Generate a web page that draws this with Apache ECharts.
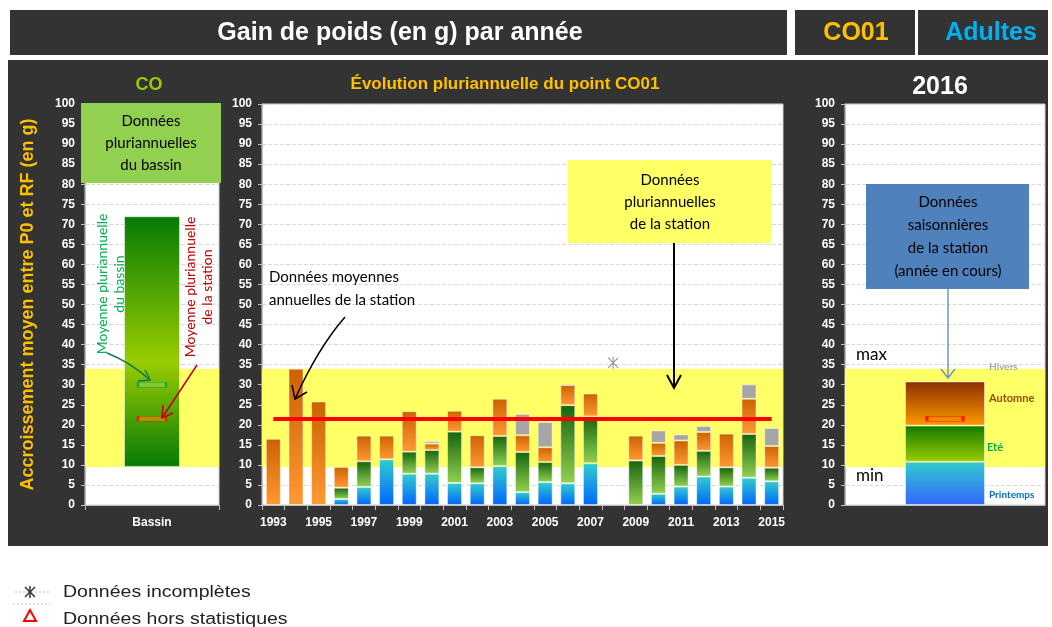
<!DOCTYPE html>
<html>
<head>
<meta charset="utf-8">
<title>Gain de poids (en g) par année</title>
<script src="https://cdn.jsdelivr.net/npm/echarts@6/dist/echarts.min.js"></script>
<style>
  html, body { margin: 0; padding: 0; background: #ffffff; }
  #chart { width: 1052px; height: 627px; }
</style>
</head>
<body>
<div id="chart"></div>
<script>
// données pluriannuelles de la station (g)
const years = ['1993', '1994', '1995', '1996', '1997', '1998', '1999', '2000', '2001', '2002', '2003', '2004',
    '2005', '2006', '2007', '2008', '2009', '2010', '2011', '2012', '2013', '2014', '2015'];
const printemps = [0, 0, 0, 1.5, 4.5, 11.4, 7.8, 7.8, 5.5, 5.4, 9.7, 3.2, 5.7, 5.4, 10.4, 0, 0, 2.8, 4.6, 7.1, 4.6, 6.8, 5.9];
const ete = [0, 0, 0, 2.8, 6.4, 0, 5.5, 5.9, 12.8, 4.0, 7.5, 10.0, 5.0, 19.5, 11.7, 0, 11.1, 9.4, 5.4, 6.4, 4.8, 10.9, 3.4];
const automne = [16.5, 34, 25.8, 5.2, 6.4, 5.9, 10.1, 1.6, 5.2, 8.0, 9.3, 4.2, 3.7, 5.0, 5.7, 0, 6.2, 3.3, 6.1, 4.7, 8.4, 8.8, 5.4];
const hivers = [0, 0, 0, 0, 0, 0, 0, 0.6, 0, 0, 0, 5.3, 6.3, 0.4, 0, 0, 0, 3.1, 1.5, 1.5, 0, 3.6, 4.5];

// données incomplètes
const incompleteYears = ['2008'];
const incompleteValues = [35.5];

// bassin
const bassinCategory = ['Bassin'];
const bassinMin = 9.5;
const bassinMax = 72;
const bassinMean = 30;
const stationMean = 21.5;

// bande min / max
const bandLow = 9.5;
const bandHigh = 34;

// année en cours
const currentYear = ['2016'];
const printempsCurrent = [10.8];
const eteCurrent = [9.0];
const automneCurrent = [11.0];
const hiversCurrent = [0];

document.addEventListener('DOMContentLoaded', function() {
    const chart = echarts.init(document.getElementById('chart'));

    const ARIAL = 'Liberation Sans, Arial, sans-serif';
    const CALIBRI = 'Lato, Open Sans, sans-serif';

    function grad(top, bottom) {
        return new echarts.graphic.LinearGradient(0, 0, 0, 1, [
            { offset: 0, color: top },
            { offset: 1, color: bottom }
        ]);
    }
    // 0 -> pas de barre
    function gaps(arr) {
        return arr.map(v => (v ? v : null));
    }

    const band = {
        silent: true,
        itemStyle: { color: '#ffff66' },
        data: [[{ yAxis: bandLow }, { yAxis: bandHigh }]]
    };

    function yAxisFor(i) {
        return {
            type: 'value', gridIndex: i, min: 0, max: 100, interval: 5,
            axisLine: { show: true, lineStyle: { color: '#bfbfbf' } },
            axisTick: { show: true, length: 4, lineStyle: { color: '#bfbfbf' } },
            axisLabel: { color: '#ffffff', fontWeight: 'bold', fontSize: 12, fontFamily: ARIAL, margin: 10 },
            splitLine: { show: true, lineStyle: { color: '#d9d9d9', type: 'dashed' } }
        };
    }

    const gridStyle = { show: true, backgroundColor: '#ffffff', borderColor: '#d0d0d0', borderWidth: 1 };

    const barBorder = { borderColor: 'rgba(255,255,255,0.45)', borderWidth: 1 };

    const graphic = [
        // fonds sombres
        { type: 'rect', z: -10, shape: { x: 8, y: 60, width: 1040, height: 486 }, style: { fill: '#333333' } },
        { type: 'rect', z: -10, shape: { x: 10, y: 10, width: 777, height: 45 }, style: { fill: '#333333' } },
        { type: 'rect', z: -10, shape: { x: 795, y: 10, width: 120, height: 45 }, style: { fill: '#333333' } },
        { type: 'rect', z: -10, shape: { x: 918, y: 10, width: 130, height: 45 }, style: { fill: '#333333' } },
        { type: 'text', x: 400, y: 33, style: { text: 'Gain de poids (en g) par année', fill: '#ffffff', font: 'bold 25px ' + ARIAL, textAlign: 'center', textVerticalAlign: 'middle' } },
        { type: 'text', x: 856, y: 33, style: { text: 'CO01', fill: '#ffc000', font: 'bold 25px ' + ARIAL, textAlign: 'center', textVerticalAlign: 'middle' } },
        { type: 'text', x: 991, y: 33, style: { text: 'Adultes', fill: '#00b0f0', font: 'bold 25px ' + ARIAL, textAlign: 'center', textVerticalAlign: 'middle' } },

        // titres des panneaux
        { type: 'text', x: 149, y: 85, style: { text: 'CO', fill: '#99cc00', font: 'bold 18px ' + ARIAL, textAlign: 'center', textVerticalAlign: 'middle' } },
        { type: 'text', x: 505, y: 84, style: { text: 'Évolution pluriannuelle du point CO01', fill: '#ffc000', font: 'bold 17px ' + ARIAL, textAlign: 'center', textVerticalAlign: 'middle' } },
        { type: 'text', x: 940, y: 87, style: { text: '2016', fill: '#ffffff', font: 'bold 25px ' + ARIAL, textAlign: 'center', textVerticalAlign: 'middle' } },

        // panneau bassin
        { type: 'rect', z: 10, shape: { x: 81, y: 103, width: 140, height: 80 }, style: { fill: '#92d050' } },
        { type: 'text', z: 11, x: 151, y: 143, style: { text: 'Données\npluriannuelles\ndu bassin', fill: '#000000', font: '15px ' + CALIBRI, lineHeight: 22, textAlign: 'center', textVerticalAlign: 'middle' } },
        { type: 'text', z: 11, x: 111, y: 284, rotation: Math.PI / 2, style: { text: 'Moyenne pluriannuelle\ndu bassin', fill: '#00b050', font: '14px ' + CALIBRI, lineHeight: 17, textAlign: 'center', textVerticalAlign: 'middle' } },
        { type: 'text', z: 11, x: 199, y: 287, rotation: Math.PI / 2, style: { text: 'Moyenne pluriannuelle\nde la station', fill: '#c00000', font: '14px ' + CALIBRI, lineHeight: 17, textAlign: 'center', textVerticalAlign: 'middle' } },
        { type: 'bezierCurve', z: 11, shape: { x1: 107, y1: 353, x2: 150, y2: 380, cpx1: 130, cpy1: 362 }, style: { stroke: '#137a4c', lineWidth: 1.5, fill: null } },
        { type: 'polyline', z: 11, shape: { points: [[138, 381], [150, 380], [145, 370]] }, style: { stroke: '#137a4c', lineWidth: 1.5, fill: null } },
        { type: 'line', z: 11, shape: { x1: 197, y1: 365, x2: 162, y2: 418 }, style: { stroke: '#c00000', lineWidth: 1.5 } },
        { type: 'polyline', z: 11, shape: { points: [[163, 405], [162, 418], [173, 413]] }, style: { stroke: '#c00000', lineWidth: 1.5, fill: null } },

        // panneau pluriannuel
        { type: 'text', z: 11, x: 269, y: 289, style: { text: 'Données moyennes\nannuelles de la station', fill: '#000000', font: '15px ' + CALIBRI, lineHeight: 23, textAlign: 'left', textVerticalAlign: 'middle' } },
        { type: 'bezierCurve', z: 11, shape: { x1: 345, y1: 317, x2: 295, y2: 399, cpx1: 318, cpy1: 348 }, style: { stroke: '#000000', lineWidth: 1.5, fill: null } },
        { type: 'polyline', z: 11, shape: { points: [[292, 385], [295, 399], [307, 392]] }, style: { stroke: '#000000', lineWidth: 1.5, fill: null } },
        { type: 'rect', z: 10, shape: { x: 568, y: 160, width: 204, height: 83 }, style: { fill: '#ffff66' } },
        { type: 'text', z: 11, x: 670, y: 202, style: { text: 'Données\npluriannuelles\nde la station', fill: '#000000', font: '15px ' + CALIBRI, lineHeight: 22, textAlign: 'center', textVerticalAlign: 'middle' } },
        { type: 'line', z: 11, shape: { x1: 674, y1: 243, x2: 674, y2: 388 }, style: { stroke: '#000000', lineWidth: 2 } },
        { type: 'polyline', z: 11, shape: { points: [[667, 375], [674, 388], [681, 375]] }, style: { stroke: '#000000', lineWidth: 2, fill: null } },

        // panneau année en cours
        { type: 'rect', z: 10, shape: { x: 866, y: 184, width: 163, height: 105 }, style: { fill: '#4f81bd' } },
        { type: 'text', z: 11, x: 948, y: 237, style: { text: 'Données\nsaisonnières\nde la station\n(année en cours)', fill: '#000000', font: '15px ' + CALIBRI, lineHeight: 23, textAlign: 'center', textVerticalAlign: 'middle' } },
        { type: 'line', z: 11, shape: { x1: 948, y1: 289, x2: 948, y2: 378 }, style: { stroke: '#7096c8', lineWidth: 1.5 } },
        { type: 'polyline', z: 11, shape: { points: [[941, 369], [948, 378], [955, 369]] }, style: { stroke: '#7096c8', lineWidth: 1.5, fill: null } },
        { type: 'text', z: 11, x: 856, y: 355, style: { text: 'max', fill: '#000000', font: '17px ' + CALIBRI, textAlign: 'left', textVerticalAlign: 'middle' } },
        { type: 'text', z: 11, x: 856, y: 476, style: { text: 'min', fill: '#000000', font: '17px ' + CALIBRI, textAlign: 'left', textVerticalAlign: 'middle' } },
        { type: 'text', z: 11, x: 989, y: 367, style: { text: 'Hivers', fill: '#a6a6a6', font: 'bold 10px ' + CALIBRI, textAlign: 'left', textVerticalAlign: 'middle' } },
        { type: 'text', z: 11, x: 989, y: 398, style: { text: 'Automne', fill: '#984807', font: 'bold 11px ' + CALIBRI, textAlign: 'left', textVerticalAlign: 'middle' } },
        { type: 'text', z: 11, x: 987, y: 447, style: { text: 'Eté', fill: '#00b050', font: 'bold 11px ' + CALIBRI, textAlign: 'left', textVerticalAlign: 'middle' } },
        { type: 'text', z: 11, x: 989, y: 495, style: { text: 'Printemps', fill: '#0070c0', font: 'bold 10px ' + CALIBRI, textAlign: 'left', textVerticalAlign: 'middle' } },

        // légende du bas
        { type: 'line', shape: { x1: 15, y1: 592, x2: 50, y2: 592 }, style: { stroke: '#bfbfbf', lineWidth: 1, lineDash: [2, 2] } },
        { type: 'line', shape: { x1: 13, y1: 604, x2: 50, y2: 604 }, style: { stroke: '#bfbfbf', lineWidth: 1, lineDash: [2, 2] } },
        { type: 'line', shape: { x1: 25, y1: 587, x2: 35, y2: 597 }, style: { stroke: '#333333', lineWidth: 1.5 } },
        { type: 'line', shape: { x1: 35, y1: 587, x2: 25, y2: 597 }, style: { stroke: '#333333', lineWidth: 1.5 } },
        { type: 'line', shape: { x1: 30, y1: 586, x2: 30, y2: 598 }, style: { stroke: '#333333', lineWidth: 1.5 } },
        { type: 'polygon', shape: { points: [[30, 610], [24, 621], [36, 621]] }, style: { stroke: '#ff0000', lineWidth: 2, fill: null } },
        { type: 'text', x: 63, y: 593, scaleX: 1.22, style: { text: 'Données incomplètes', fill: '#222222', font: '16px ' + ARIAL, textVerticalAlign: 'middle' } },
        { type: 'text', x: 63, y: 620, scaleX: 1.22, style: { text: 'Données hors statistiques', fill: '#222222', font: '16px ' + ARIAL, textVerticalAlign: 'middle' } }
    ];

    const option = {
        backgroundColor: '#ffffff',
        animation: false,
        grid: [
            Object.assign({ left: 85, top: 104, width: 134, height: 401 }, gridStyle),
            Object.assign({ left: 262, top: 104, width: 521, height: 401 }, gridStyle),
            Object.assign({ left: 845, top: 104, width: 200, height: 401 }, gridStyle)
        ],
        xAxis: [
            {
                type: 'category', gridIndex: 0, data: bassinCategory,
                axisLine: { lineStyle: { color: '#bfbfbf' } },
                axisTick: { show: true, lineStyle: { color: '#bfbfbf' } },
                axisLabel: { color: '#ffffff', fontWeight: 'bold', fontSize: 12, fontFamily: ARIAL, margin: 12 }
            },
            {
                type: 'category', gridIndex: 1, data: years,
                axisLine: { lineStyle: { color: '#bfbfbf' } },
                axisTick: { show: true, interval: 0, lineStyle: { color: '#bfbfbf' } },
                axisLabel: { color: '#ffffff', fontWeight: 'bold', fontSize: 12, fontFamily: ARIAL, margin: 12, interval: 1 }
            },
            {
                type: 'category', gridIndex: 2, data: currentYear,
                axisLine: { lineStyle: { color: '#bfbfbf' } },
                axisTick: { show: false },
                axisLabel: { show: false }
            }
        ],
        yAxis: [
            Object.assign(yAxisFor(0), {
                name: 'Accroissement moyen entre P0 et RF (en g)',
                nameLocation: 'middle',
                nameGap: 48,
                nameRotate: 90,
                nameTextStyle: { color: '#ffc000', fontWeight: 'bold', fontSize: 18, fontFamily: ARIAL }
            }),
            yAxisFor(1),
            yAxisFor(2)
        ],
        series: [
            // bassin
            {
                type: 'bar', xAxisIndex: 0, yAxisIndex: 0, stack: 'bassin', barWidth: 56, silent: true,
                data: [bassinMin], itemStyle: { color: 'transparent' }
            },
            {
                type: 'bar', xAxisIndex: 0, yAxisIndex: 0, stack: 'bassin', barWidth: 56,
                data: [bassinMax - bassinMin],
                itemStyle: {
                    color: new echarts.graphic.LinearGradient(0, 0, 0, 1, [
                        { offset: 0, color: '#067a06' },
                        { offset: 0.58, color: '#99cc00' },
                        { offset: 1, color: '#067a06' }
                    ]),
                    borderColor: 'rgba(255,255,255,0.5)', borderWidth: 1
                }
            },
            {
                type: 'scatter', xAxisIndex: 0, yAxisIndex: 0, symbol: 'rect', symbolSize: [28, 5], z: 4,
                data: [[bassinCategory[0], bassinMean]],
                itemStyle: { color: 'rgba(146,208,80,0.7)', borderColor: '#00a040', borderWidth: 1 },
                markArea: band
            },
            {
                type: 'scatter', xAxisIndex: 0, yAxisIndex: 0, symbol: 'rect', symbolSize: [28, 5], z: 4,
                data: [[bassinCategory[0], stationMean]],
                itemStyle: { color: 'rgba(255,153,0,0.6)', borderColor: '#ff0000', borderWidth: 1 }
            },

            // pluriannuel
            {
                name: 'Printemps', type: 'bar', xAxisIndex: 1, yAxisIndex: 1, stack: 'annee', barWidth: 15,
                data: gaps(printemps), itemStyle: Object.assign({ color: grad('#33cccc', '#0066ff') }, barBorder)
            },
            {
                name: 'Eté', type: 'bar', xAxisIndex: 1, yAxisIndex: 1, stack: 'annee', barWidth: 15,
                data: gaps(ete), itemStyle: Object.assign({ color: grad('#17640f', '#92d050') }, barBorder)
            },
            {
                name: 'Automne', type: 'bar', xAxisIndex: 1, yAxisIndex: 1, stack: 'annee', barWidth: 15,
                data: gaps(automne), itemStyle: Object.assign({ color: grad('#cc6100', '#ff9933') }, barBorder)
            },
            {
                name: 'Hivers', type: 'bar', xAxisIndex: 1, yAxisIndex: 1, stack: 'annee', barWidth: 15,
                data: gaps(hivers), itemStyle: Object.assign({ color: '#a6a6a6' }, barBorder)
            },
            {
                name: 'Données incomplètes', type: 'scatter', xAxisIndex: 1, yAxisIndex: 1, z: 4,
                data: incompleteYears.map((y, i) => [y, incompleteValues[i]]),
                symbol: 'path://M0,1L10,11M10,1L0,11M5,0L5,12',
                symbolSize: [10, 12],
                itemStyle: { color: 'transparent', borderColor: '#808080', borderWidth: 1.2 },
                markArea: band,
                markLine: {
                    silent: true,
                    symbol: ['none', 'none'],
                    label: { show: false },
                    lineStyle: { color: '#ff0000', width: 4, type: 'solid' },
                    data: [[{ coord: [years[0], stationMean] }, { coord: [years[years.length - 1], stationMean] }]]
                }
            },

            // année en cours
            {
                type: 'bar', xAxisIndex: 2, yAxisIndex: 2, stack: 'courant', barWidth: 80,
                data: gaps(printempsCurrent), itemStyle: Object.assign({ color: grad('#33cccc', '#3366ff') }, barBorder)
            },
            {
                type: 'bar', xAxisIndex: 2, yAxisIndex: 2, stack: 'courant', barWidth: 80,
                data: gaps(eteCurrent), itemStyle: Object.assign({ color: grad('#157a00', '#99cc00') }, barBorder)
            },
            {
                type: 'bar', xAxisIndex: 2, yAxisIndex: 2, stack: 'courant', barWidth: 80,
                data: gaps(automneCurrent), itemStyle: Object.assign({ color: grad('#8b2e00', '#ff9900') }, barBorder)
            },
            {
                type: 'bar', xAxisIndex: 2, yAxisIndex: 2, stack: 'courant', barWidth: 80,
                data: gaps(hiversCurrent), itemStyle: Object.assign({ color: '#a6a6a6' }, barBorder)
            },
            {
                type: 'scatter', xAxisIndex: 2, yAxisIndex: 2, symbol: 'rect', symbolSize: [36, 5], z: 4,
                data: [[currentYear[0], stationMean]],
                itemStyle: { color: 'transparent', borderColor: '#ff0000', borderWidth: 1.2 },
                markArea: band
            }
        ],
        graphic: graphic
    };

    chart.setOption(option);

    window.addEventListener('resize', function() {
        chart.resize();
    });
});
</script>
</body>
</html>
